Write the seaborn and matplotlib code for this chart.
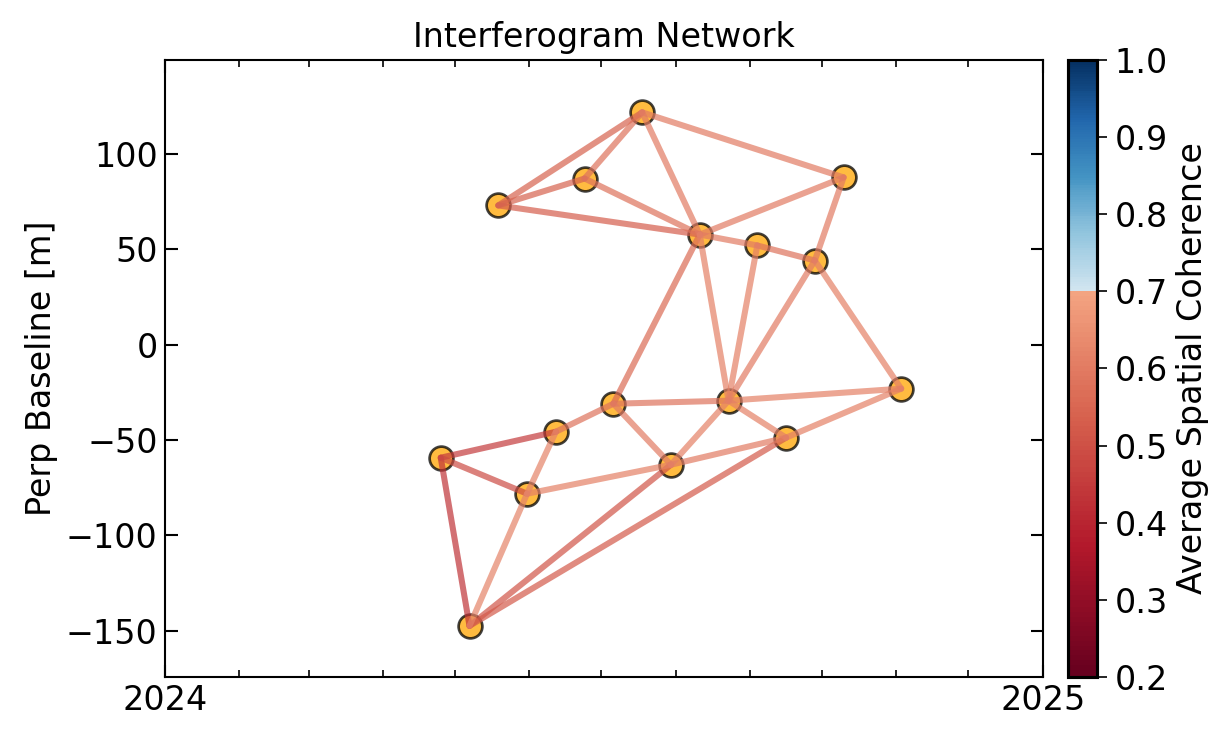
import numpy as np
import pandas as pd
import seaborn as sns
import matplotlib.pyplot as plt
import matplotlib.dates as mdates
from matplotlib.colors import ListedColormap, Normalize
from matplotlib.cm import ScalarMappable

# acquisitions (12-day Sentinel-1 style) and perpendicular baselines
dates = ["2024-04-25", "2024-05-07", "2024-05-19", "2024-05-31", "2024-06-12",
         "2024-06-24", "2024-07-06", "2024-07-18", "2024-07-30", "2024-08-11",
         "2024-08-23", "2024-09-04", "2024-09-16", "2024-09-28", "2024-10-10",
         "2024-11-03"]
bperp = [-59.3, -147.5, 73.0, -78.2, -45.7, 87.1, -31.0, 121.8, -63.0, 57.7,
         -29.4, 52.0, -48.8, 44.1, 87.7, -23.1]

# interferogram pairs (index into dates) and average spatial coherence
ref_idx = [0, 0, 0, 1, 1, 1, 3, 3, 2, 2, 2, 5, 5, 7, 7, 9, 9, 9, 9, 11, 11,
           13, 13, 13, 10, 12, 10, 6, 6, 8, 4, 8]
sec_idx = [1, 4, 3, 3, 8, 12, 4, 8, 5, 7, 9, 7, 9, 9, 14, 14, 11, 6, 10, 13, 10,
           14, 10, 15, 15, 15, 12, 10, 8, 10, 6, 12]
coherence = [0.43, 0.45, 0.49, 0.62, 0.51, 0.52, 0.62, 0.61, 0.54, 0.54, 0.53,
             0.58, 0.58, 0.60, 0.60, 0.60, 0.60, 0.56, 0.61, 0.58, 0.61,
             0.60, 0.60, 0.61, 0.61, 0.61, 0.61, 0.58, 0.60, 0.61, 0.58, 0.60]

nodes = pd.DataFrame({"date": pd.to_datetime(dates), "bperp": bperp})

rows = []
for k, (i, j, c) in enumerate(zip(ref_idx, sec_idx, coherence)):
    rows.append({"pair": k, "date": nodes.date[i], "bperp": bperp[i], "coh": c})
    rows.append({"pair": k, "date": nodes.date[j], "bperp": bperp[j], "coh": c})
edges = pd.DataFrame(rows)

# RdBu split at 0.7: lower part dark red -> salmon, upper part light blue -> dark blue
rdbu = plt.get_cmap("RdBu")
cmap = ListedColormap(np.vstack([rdbu(np.linspace(0.0, 0.3, 160)),
                                 rdbu(np.linspace(0.6, 1.0, 96))]))
norm = Normalize(vmin=0.2, vmax=1.0)

sns.set_style("ticks", {"axes.edgecolor": "black", "text.color": "black",
                        "axes.labelcolor": "black", "xtick.color": "black",
                        "ytick.color": "black"})
plt.rcParams["font.family"] = ["DejaVu Sans"]
plt.rcParams["font.size"] = 16
plt.rcParams["axes.linewidth"] = 1.0

fig = plt.figure(figsize=(1231 / 150, 741 / 150), dpi=150)
ax = fig.add_axes([0.134, 0.0864, 0.713, 0.833])
cax = fig.add_axes([0.8676, 0.0864, 0.0236, 0.833])

sns.scatterplot(data=nodes, x="date", y="bperp", ax=ax, s=130, color="orange",
                edgecolor="k", linewidth=1.3, alpha=0.75, zorder=2)
sns.lineplot(data=edges, x="date", y="bperp", units="pair", hue="coh",
             palette=cmap, hue_norm=norm, estimator=None, sort=False,
             lw=2.9, alpha=0.7, legend=False, ax=ax, zorder=3)

ax.set_xlim(pd.Timestamp("2024-01-01"), pd.Timestamp("2025-01-01"))
ax.set_ylim(-174.3, 149.4)
ax.xaxis.set_major_locator(mdates.YearLocator())
ax.xaxis.set_major_formatter(mdates.DateFormatter("%Y"))
ax.xaxis.set_minor_locator(mdates.MonthLocator())
ax.tick_params(which="both", direction="in", top=True, right=True, labelsize=16,
               color="black", labelcolor="black")
ax.tick_params(which="major", length=6, width=1.0)
ax.tick_params(which="minor", length=3.5, width=0.8)
ax.set_xlabel("")
ax.set_ylabel("Perp Baseline [m]", fontsize=16, color="black")
ax.set_title("Interferogram Network", fontsize=16, color="black")

cbar = fig.colorbar(ScalarMappable(norm=norm, cmap=cmap), cax=cax)
cbar.set_ticks(np.arange(0.2, 1.01, 0.1))
cbar.ax.tick_params(labelsize=16, color="black", labelcolor="black", length=5)
cbar.outline.set_linewidth(1.5)
cbar.set_label("Average Spatial Coherence", fontsize=16, color="black")

fig.savefig("out.png", dpi=150)
